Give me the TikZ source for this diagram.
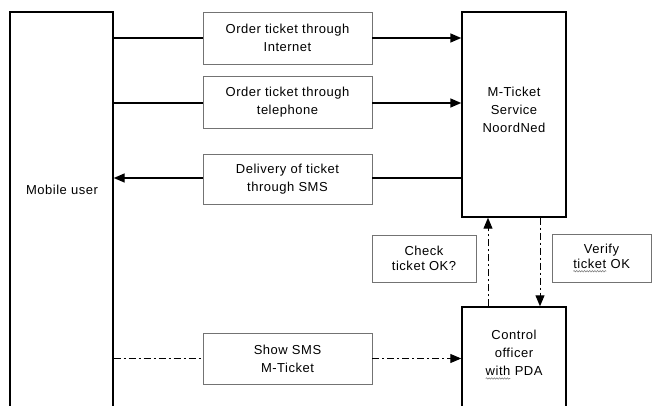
\documentclass[tikz,border=0pt]{standalone}
\usepackage{fontspec}
\setmainfont{Liberation Sans}[LetterSpace=4]
\usetikzlibrary{arrows.meta,decorations.pathmorphing}
\newcommand\wavyword[1]{\tikz[baseline=(w.base)]{\node[draw=none,fill=none,minimum width=0pt,minimum height=0pt,inner sep=0pt,outer sep=0pt,align=left](w){#1};\draw[decorate,decoration={snake,amplitude=0.7pt,segment length=2.6pt},black!55,line width=0.5pt] ([yshift=-2.5pt]w.base west) -- ([yshift=-2.5pt]w.base east);}}
\begin{document}
\begin{tikzpicture}[x=1pt,y=-1pt,
  bigbox/.style={draw=black, line width=1.4pt, inner sep=0pt},
  lblbox/.style={draw=black!55, line width=0.9pt, fill=white, align=center, inner sep=0pt, font=\fontsize{13}{18}\selectfont},
  txt/.style={align=center, inner sep=0pt, font=\fontsize{13}{18}\selectfont},
  conn/.style={line width=1.4pt},
  arr/.style={-{Triangle[length=11pt,width=9pt]}},
  dd/.style={line width=1pt, dash pattern=on 7pt off 3pt on 2pt off 3pt}]
\useasboundingbox (0,0) rectangle (654,406);
\clip (0,0) rectangle (654,406);
% main boxes
\node[bigbox, minimum width=103pt, minimum height=418pt] (mu) at (61.5,221) {};
\node[bigbox, minimum width=104pt, minimum height=205pt] (mt) at (514,114.5) {};
\node[bigbox, minimum width=104pt, minimum height=123pt] (co) at (514,368.5) {};
\node[txt] (mut) at (62,190) {Mobile user};
\node[txt] (mtt) at (514,110) {M-Ticket\\Service\\NoordNed};
\node[txt] (cot) at (514,355) {Control\\officer\\\wavyword{with} PDA};
% label boxes
\node[lblbox, minimum width=169pt, minimum height=52pt] (o1) at (287.5,38) {Order ticket through\\Internet};
\node[lblbox, minimum width=169pt, minimum height=52pt] (o2) at (287.5,102) {Order ticket through\\telephone};
\node[lblbox, minimum width=169pt, minimum height=50pt] (d3) at (287.5,179) {Delivery of ticket\\through SMS};
\node[lblbox, minimum width=169pt, minimum height=51pt] (s4) at (287.5,358.5) {Show SMS\\M-Ticket};
\node[lblbox, minimum width=104pt, minimum height=47pt, font=\fontsize{13}{15.5}\selectfont] (ck) at (424,258.5) {Check\\ticket OK?};
\node[lblbox, minimum width=99pt, minimum height=48pt, font=\fontsize{13}{15.5}\selectfont] (vf) at (601.5,258) {Verify\\\wavyword{ticket} OK};
% connectors
\draw[conn] (mu.east |- o1) -- (o1.west);
\draw[conn,arr] (o1.east) -- (o1.east -| mt.west);
\draw[conn] ([yshift=-1pt]mu.east |- o2) -- ([yshift=-1pt]o2.west);
\draw[conn,arr] ([yshift=-1pt]o2.east) -- ([yshift=-1pt]o2.east -| mt.west);
\draw[conn] ([yshift=1pt]mt.west |- d3) -- ([yshift=1pt]d3.east);
\draw[conn,arr] ([yshift=1pt]d3.west) -- ([yshift=1pt]d3.west -| mu.east);
\draw[dd] (mu.east |- s4) -- (s4.west);
\draw[dd,arr] (s4.east) -- (s4.east -| co.west);
\draw[dd,arr] ([xshift=-26pt]co.north) -- ([xshift=-26pt]mt.south);
\draw[dd,arr] ([xshift=26pt]mt.south) -- ([xshift=26pt]co.north);
\end{tikzpicture}
\end{document}
